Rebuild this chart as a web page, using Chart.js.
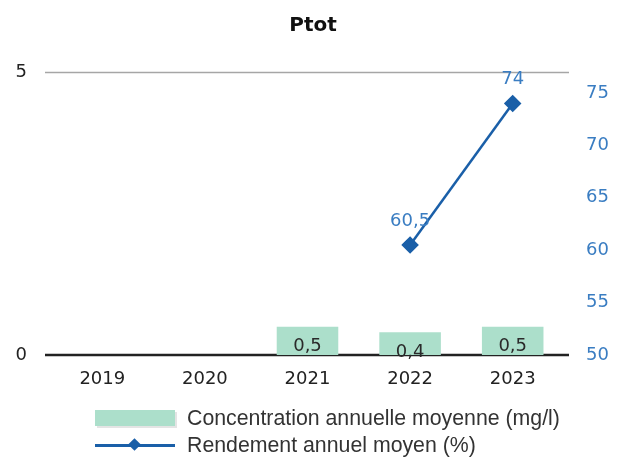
<!DOCTYPE html>
<html><head><meta charset="utf-8">
<script src="https://cdn.jsdelivr.net/npm/chart.js@4.4.1/dist/chart.umd.min.js"></script>
<style>
html,body{margin:0;padding:0;background:#fff;}
#wrap{position:relative;width:626px;height:461px;overflow:hidden;}
#c{position:absolute;left:0;top:0;}
#legend{position:absolute;left:95px;top:405px;font-family:'Liberation Sans',Arial,sans-serif;font-size:21.3px;color:#333;}
.row{display:flex;align-items:center;height:27px;}
.sw{width:80px;height:17px;margin-right:12px;position:relative;flex:none;}
.box{position:absolute;left:0;top:0;width:80px;height:16px;background:#acdfcb;box-shadow:2px 2px 0 #e4e4e4;}
.ln{position:absolute;left:0;top:7px;width:80px;height:3px;background:#1a5fa8;}
.dm{position:absolute;left:35px;top:3px;width:9px;height:9px;background:#1a5fa8;transform:rotate(45deg);}
</style></head>
<body>
<div id="wrap">
<canvas id="c" width="626" height="461"></canvas>
<div id="legend">
  <div class="row"><div class="sw"><div class="box"></div></div><span>Concentration annuelle moyenne (mg/l)</span></div>
  <div class="row"><div class="sw"><div class="ln"></div><div class="dm"></div></div><span>Rendement annuel moyen (%)</span></div>
</div>
</div>
<script>
const categories = ['2019', '2020', '2021', '2022', '2023'];
const concentration = [null, null, 0.5, 0.4, 0.5];
const rendement = [null, null, null, 60.5, 74];
const leftTicks = [0, 5];
const rightTicks = [50, 55, 60, 65, 70, 75];
const titleText = 'Ptot';

const fmt = v => String(v).replace('.', ',');

const framePlugin = {
  id: 'frame',
  beforeDatasetsDraw(chart) {
    const {ctx, chartArea, scales} = chart;
    const y = scales.y;
    ctx.save();
    ctx.strokeStyle = '#a6a6a6';
    ctx.lineWidth = 1.5;
    ctx.beginPath();
    ctx.moveTo(chartArea.left - 6, Math.round(y.getPixelForValue(5)) + 0.5);
    ctx.lineTo(chartArea.right + 5, Math.round(y.getPixelForValue(5)) + 0.5);
    ctx.stroke();
    ctx.strokeStyle = '#222';
    ctx.lineWidth = 2.5;
    ctx.beginPath();
    ctx.moveTo(chartArea.left - 6, y.getPixelForValue(0));
    ctx.lineTo(chartArea.right + 5, y.getPixelForValue(0));
    ctx.stroke();
    ctx.restore();
  }
};

const labelPlugin = {
  id: 'vlabels',
  afterDatasetsDraw(chart) {
    const {ctx} = chart;
    ctx.save();
    ctx.textAlign = 'center';
    ctx.textBaseline = 'middle';
    ctx.font = '18px "DejaVu Sans", Verdana, sans-serif';
    const m0 = chart.getDatasetMeta(1);
    m0.data.forEach((el, i) => {
      const v = concentration[i];
      if (v == null) return;
      ctx.fillStyle = '#2a2a2a';
      ctx.fillText(fmt(v), el.x, el.y + 20);
    });
    const m1 = chart.getDatasetMeta(0);
    m1.data.forEach((el, i) => {
      const v = rendement[i];
      if (v == null) return;
      ctx.fillStyle = '#3a7dc2';
      ctx.fillText(fmt(v), el.x, el.y - 24);
    });
    ctx.restore();
  }
};

new Chart(document.getElementById('c'), {
  data: {
    labels: categories,
    datasets: [
      {
        type: 'line', label: 'Rendement annuel moyen (%)', data: rendement, yAxisID: 'y1',
        borderColor: '#1a5fa8', backgroundColor: '#1a5fa8', borderWidth: 2.5,
        pointStyle: 'rectRot', pointRadius: 7, pointHoverRadius: 7, spanGaps: false, order: 0
      },
      {
        type: 'bar', label: 'Concentration annuelle moyenne (mg/l)', data: concentration, yAxisID: 'y',
        backgroundColor: '#acdfcb', borderWidth: 0, barPercentage: 0.6, categoryPercentage: 1, order: 1
      }
    ]
  },
  options: {
    responsive: false, animation: false, devicePixelRatio: 1,
    layout: {padding: {left: 0, right: 0, top: 0, bottom: 0}},
    plugins: {
      legend: {display: false},
      tooltip: {enabled: false},
      title: {
        display: true, text: titleText, color: '#111',
        font: {family: '"DejaVu Sans", Verdana, sans-serif', size: 20, weight: 'bold'},
        padding: {top: 14, bottom: 34}
      }
    },
    scales: {
      x: {
        grid: {display: false, drawTicks: false},
        border: {display: false},
        ticks: {color: '#222', padding: 14, font: {family: '"DejaVu Sans", Verdana, sans-serif', size: 18}},
        afterFit(s) { s.height = 106; }
      },
      y: {
        position: 'left', min: 0, max: 5,
        afterBuildTicks(s) { s.ticks = leftTicks.map(v => ({value: v})); },
        grid: {display: false, drawTicks: false},
        border: {display: false},
        ticks: {color: '#222', padding: 24, font: {family: '"DejaVu Sans", Verdana, sans-serif', size: 18}},
        afterFit(s) { s.width = 51; }
      },
      y1: {
        position: 'right', min: 50, max: 77,
        afterBuildTicks(s) { s.ticks = rightTicks.map(v => ({value: v})); },
        grid: {display: false, drawTicks: false},
        border: {display: false},
        ticks: {color: '#3a7dc2', padding: 22, font: {family: '"DejaVu Sans", Verdana, sans-serif', size: 18}},
        afterFit(s) { s.width = 62; }
      }
    }
  },
  plugins: [framePlugin, labelPlugin]
});
</script>
</body></html>
